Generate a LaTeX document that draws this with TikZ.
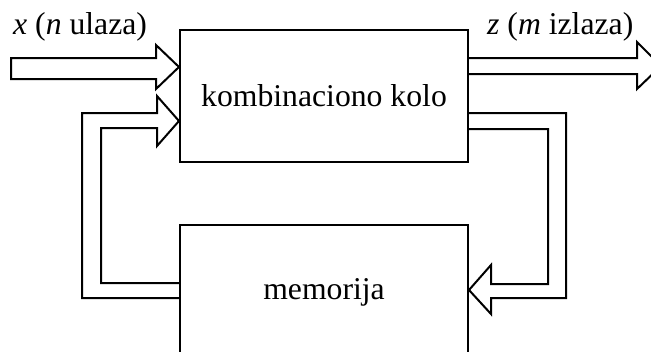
\documentclass[tikz,border=0pt]{standalone}
\usepackage{fontspec}
\setmainfont{Liberation Serif}
\usepackage{tikz}
\usetikzlibrary{positioning,calc}

\begin{document}
\begin{tikzpicture}[x=1pt,y=-1pt,
            blok/.style={draw,rectangle,line width=2pt,minimum width=288pt,inner sep=0pt,font=\fontsize{31.7}{38}\selectfont},
            lab/.style={anchor=base west,inner sep=0pt,font=\fontsize{31.7}{38}\selectfont},
            fat/.style={draw,line width=2pt,line join=miter}
          ]
          \useasboundingbox (0,0) rectangle (651,351);

          \node[blok,minimum height=132pt] (komb) at (324,96) {kombinaciono kolo};
          \node[blok,minimum height=134pt,below=61pt of komb] (mem) {memorija};

          %labels
          \node[lab] (xlab) at (13,34) {\textit{x} (\textit{n} ulaza)};
          \node[lab] (zlab) at (487,34) {\textit{z} (\textit{m} izlaza)};

          %tips on the blocks
          \coordinate (ulaz) at ($(komb.north west)+(0,38)$);
          \coordinate (povrat) at ($(komb.north west)+(0,92)$);
          \coordinate (izlaz) at ($(komb.north east)+(0,29)$);
          \coordinate (upis) at ($(mem.north east)+(0,66)$);

          %input and output
          \draw[fat] (ulaz) -- ++(-23,-22) -- ++(0,13) -- ++(-145,0) -- ++(0,21)
            -- ++(145,0) -- ++(0,10) -- cycle;
          \draw[fat] (izlaz) -- ++(168,0) -- ++(0,-16) -- ++(24,24) -- ++(-24,23)
            -- ++(0,-15) -- ++(-168,0);

          %feedback loops
          \draw[fat] ($(mem.north west)+(0,74)$) -- ++(-97,0) |- ($(povrat)+(-22,-8)$)
            -- ++(0,-17) -- (povrat) -- ++(-22,25) -- ++(0,-18) -- ++(-56,0)
            |- ($(mem.north west)+(0,59)$);
          \draw[fat] ($(komb.north east)+(0,84)$) -- ++(97,0) |- ($(upis)+(22,8)$)
            -- ++(0,16) -- (upis) -- ++(22,-25) -- ++(0,19) -- ++(57,0)
            |- ($(komb.north east)+(0,100)$);
\end{tikzpicture}
\end{document}
